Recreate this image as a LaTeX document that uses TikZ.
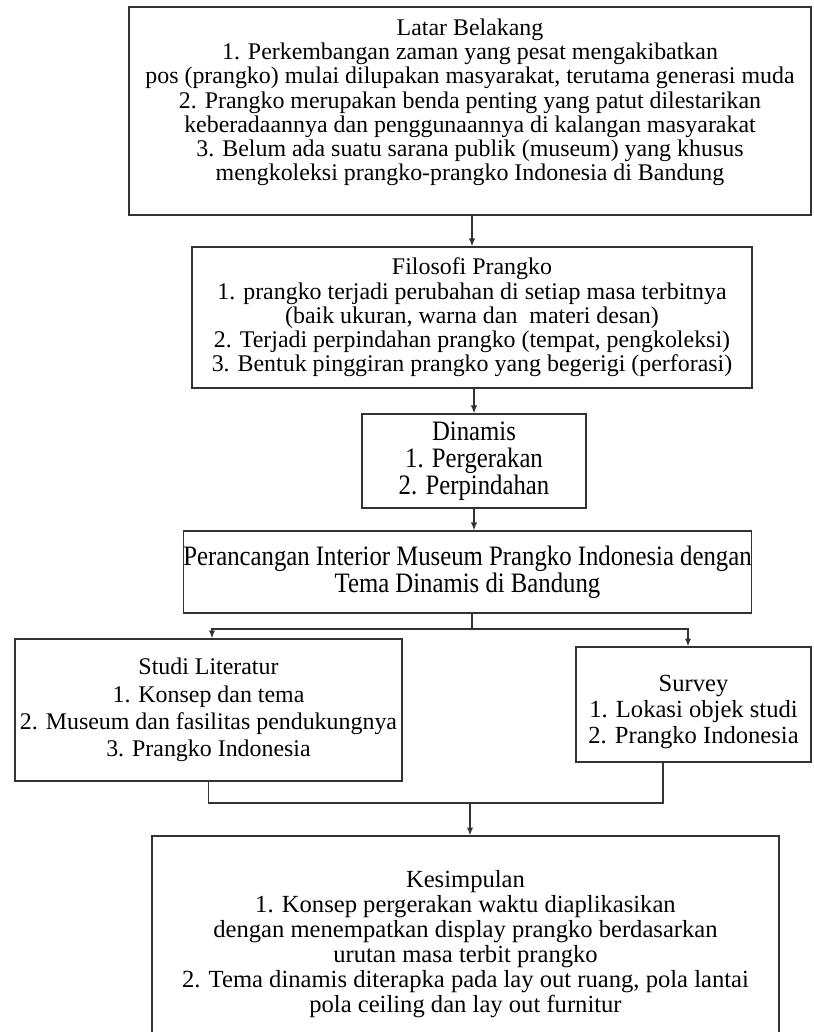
\documentclass[tikz,border=0pt]{standalone}
\usepackage{fontspec}
\setmainfont{Liberation Serif}
\newfontfamily\narrowserif[FakeStretch=0.88]{Liberation Serif}
\usepackage{tikz}
\usetikzlibrary{calc, arrows.meta}
\newcommand{\px}{0.025cm}
\tikzstyle{box}    = [rectangle, draw=black!80, line width=1.1pt, align=center, inner sep=0pt, font=\fontsize{17}{17.2}\selectfont]
\tikzstyle{narrow} = [box, font=\narrowserif\fontsize{20}{19.2}\selectfont]
\tikzstyle{loose}  = [box, font=\fontsize{17}{19.5}\selectfont]
\tikzstyle{line}   = [line width=0.8pt, draw=black!80]
\tikzstyle{arrow}  = [line, -{Latex[length=5.5pt,width=4.5pt]}]

\begin{document}
\begin{tikzpicture}[x=\px, y=-\px]
    \useasboundingbox (0,0) rectangle (814,1032);

    \node (latar)    [box, minimum width=682*\px, minimum height=208*\px] at (470,111) {Latar Belakang\\
      1. Perkembangan zaman yang pesat mengakibatkan\\
      pos (prangko) mulai dilupakan masyarakat, terutama generasi muda\\
      2. Prangko merupakan benda penting yang patut dilestarikan\\
      keberadaannya dan penggunaannya di kalangan masyarakat\\
      3. Belum ada suatu sarana publik (museum) yang khusus\\
      mengkoleksi prangko-prangko Indonesia di Bandung\rule[-16pt]{0pt}{16pt}};
    \node (filosofi) [box, minimum width=560*\px, minimum height=141*\px] at (472,317.5) {Filosofi Prangko\\
      1. prangko terjadi perubahan di setiap masa terbitnya\\
      (baik ukuran, warna dan\ \ materi desan)\\
      2. Terjadi perpindahan prangko (tempat, pengkoleksi)\\
      3. Bentuk pinggiran prangko yang begerigi (perforasi)};
    \node (dinamis)  [narrow, minimum width=224*\px, minimum height=94*\px] at (474,461) {Dinamis\\ 1. Pergerakan\\ 2. Perpindahan};
    \node (rancang)  [narrow, minimum width=563*\px, minimum height=82*\px] at (467.5,572) {Perancangan Interior Museum Prangko Indonesia dengan\\ Tema Dinamis di Bandung};
    \node (studi)    [loose, minimum width=387*\px, minimum height=142*\px] at (208.5,710) {Studi Literatur\\
      1. Konsep dan tema\\
      2. Museum dan fasilitas pendukungnya\\
      3. Prangko Indonesia};
    \node (survey)   [box, font=\fontsize{17.5}{18.5}\selectfont, minimum width=235*\px, minimum height=115*\px] at (693.5,704.5) {\rule{0pt}{22pt}Survey\\ 1. Lokasi objek studi\\ 2. Prangko Indonesia};
    \node (simpul)   [box, font=\fontsize{17.5}{17.8}\selectfont, minimum width=627*\px, minimum height=217*\px] at (465.5,944.5) {Kesimpulan\\
      1. Konsep pergerakan waktu diaplikasikan\\
      dengan menempatkan display prangko berdasarkan\\
      urutan masa terbit prangko\\
      2. Tema dinamis diterapka pada lay out ruang, pola lantai\\
      pola ceiling dan lay out furnitur};

    % arrows
    \draw [arrow] (filosofi.north |- latar.south) -- (filosofi.north);
    \draw [arrow] (dinamis.north |- filosofi.south) -- (dinamis.north);
    \draw [arrow] (dinamis.south) -- (dinamis.south |- rancang.north);

    \coordinate (split) at (472,629);
    \draw [line]  (rancang.south -| split) -- (split);
    \draw [arrow] (split) -| ([xshift=3.5*\px]studi.north);
    \draw [arrow] (split) -| ([xshift=-5.5*\px]survey.north);

    \coordinate (merge) at (470,803);
    \draw [line]  (studi.south) |- (merge);
    \draw [line]  ([xshift=-30.5*\px]survey.south) |- (merge);
    \draw [arrow] (merge) -- (merge |- simpul.north);
\end{tikzpicture}
\end{document}
